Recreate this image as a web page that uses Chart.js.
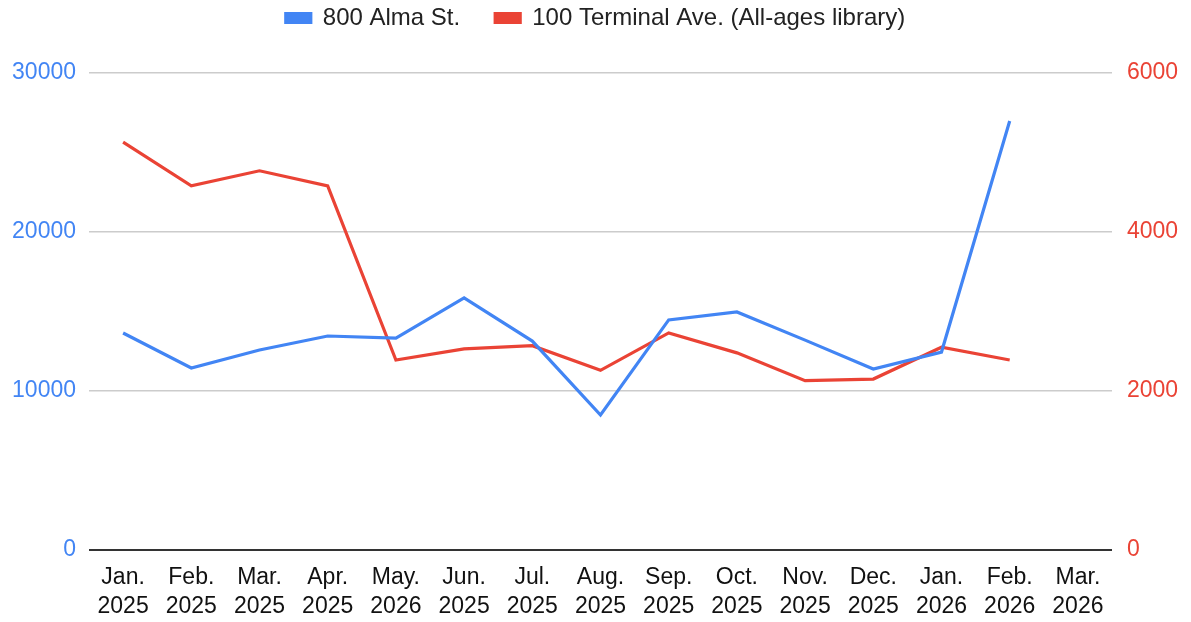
<!DOCTYPE html>
<html>
<head>
<meta charset="utf-8">
<script src="https://cdn.jsdelivr.net/npm/chart.js@4/dist/chart.umd.min.js"></script>
<style>
html,body{margin:0;padding:0;background:#fff;}
#wrap{width:1191px;height:622px;position:relative;}
canvas{display:block;}
</style>
</head>
<body>
<div id="wrap"><canvas id="c" width="1191" height="622"></canvas></div>
<script>
const categories = [
  ["Jan.","2025"],["Feb.","2025"],["Mar.","2025"],["Apr.","2025"],["May.","2026"],
  ["Jun.","2025"],["Jul.","2025"],["Aug.","2025"],["Sep.","2025"],["Oct.","2025"],
  ["Nov.","2025"],["Dec.","2025"],["Jan.","2026"],["Feb.","2026"],["Mar.","2026"]
];
const almaSt = [13650, 11450, 12580, 13460, 13330, 15850, 13140, 8490, 14470, 14970, 13200, 11380, 12450, 26980, null];
const terminalAve = [5130, 4580, 4770, 4580, 2390, 2530, 2570, 2260, 2730, 2480, 2130, 2150, 2550, 2390, null];
const leftTicks = [0, 10000, 20000, 30000];
const rightTicks = [0, 2000, 4000, 6000];

const BLUE = '#4285F4';
const RED = '#EA4335';
const FONT = 'Liberation Sans, Arial, sans-serif';
const LEGEND_SIZE = 24;
const LEGEND_PAD = 35;

const legendTweak = {
  id: 'legendTweak',
  beforeInit(chart) {
    const lg = chart.legend;
    if (!lg) return;
    const orig = lg.fit;
    lg.fit = function () { orig.call(lg); lg.height = 73; };
  },
  afterUpdate(chart) {
    const lg = chart.legend;
    if (!lg) return;
    // centre legend row at y = 18
    lg.top = 18 - LEGEND_PAD - LEGEND_SIZE / 2;
  }
};

new Chart(document.getElementById('c'), {
  type: 'line',
  data: {
    labels: categories,
    datasets: [
      { label: '800 Alma St.', data: almaSt, borderColor: BLUE, backgroundColor: BLUE,
        borderWidth: 3.2, pointRadius: 0, tension: 0, yAxisID: 'y' },
      { label: '100 Terminal Ave. (All-ages library)', data: terminalAve, borderColor: RED, backgroundColor: RED,
        borderWidth: 3.2, pointRadius: 0, tension: 0, yAxisID: 'y1' }
    ]
  },
  options: {
    responsive: false,
    maintainAspectRatio: false,
    animation: false,
    devicePixelRatio: 1,
    layout: { padding: 0 },
    plugins: {
      legend: {
        position: 'top',
        labels: { boxWidth: 25, boxHeight: 9, padding: LEGEND_PAD, color: '#222',
          font: { family: FONT, size: LEGEND_SIZE } }
      },
      tooltip: { enabled: false }
    },
    scales: {
      x: {
        offset: true,
        grid: { display: false, drawTicks: false },
        border: { display: false },
        ticks: { autoSkip: false, maxRotation: 0, minRotation: 0, padding: 13, color: '#111',
          font: { family: FONT, size: 23, lineHeight: 1.26 } },
        afterFit(s) { s.height = 72; }
      },
      y: {
        position: 'left',
        min: 0, max: 30000,
        afterBuildTicks(s) { s.ticks = leftTicks.map(v => ({ value: v })); },
        grid: {
          drawTicks: false,
          color: ctx => ctx.tick && ctx.tick.value === 0 ? '#333' : '#cccccc',
          lineWidth: ctx => ctx.tick && ctx.tick.value === 0 ? 2 : 1.5
        },
        border: { display: false },
        ticks: { padding: 13, color: BLUE, font: { family: FONT, size: 23 },
          callback: v => String(v) },
        afterFit(s) { s.width = 89; }
      },
      y1: {
        position: 'right',
        min: 0, max: 6000,
        afterBuildTicks(s) { s.ticks = rightTicks.map(v => ({ value: v })); },
        grid: { drawOnChartArea: false, drawTicks: false },
        border: { display: false },
        ticks: { padding: 15, color: RED, font: { family: FONT, size: 23 },
          callback: v => String(v) },
        afterFit(s) { s.width = 79; }
      }
    }
  },
  plugins: [legendTweak]
});
</script>
</body>
</html>
